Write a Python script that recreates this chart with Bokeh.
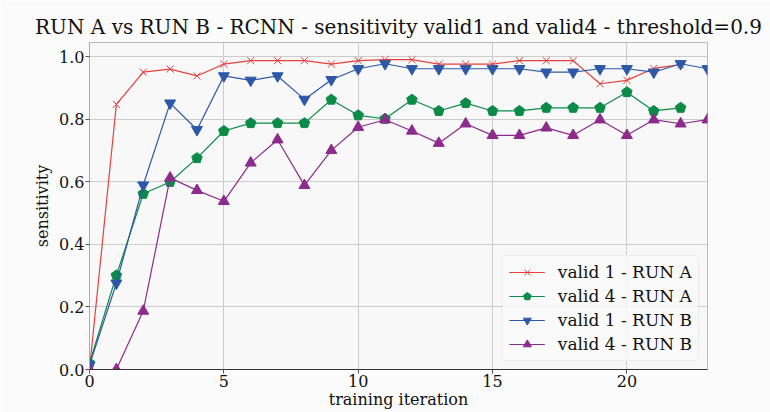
from bokeh.plotting import figure
from bokeh.models import Range1d, FixedTicker, PrintfTickFormatter, Legend, LegendItem
from bokeh.embed import file_html
from bokeh.resources import INLINE

iterations = list(range(24))
valid1_run_a = [0.0, 0.848, 0.951, 0.961, 0.939, 0.977, 0.988, 0.988, 0.988, 0.977, 0.988,
                0.991, 0.991, 0.977, 0.977, 0.977, 0.988, 0.988, 0.988, 0.914, 0.925, 0.963, 0.975]
valid4_run_a = [0.02, 0.301, 0.562, 0.600, 0.676, 0.763, 0.788, 0.788, 0.788, 0.863, 0.813,
                0.802, 0.863, 0.827, 0.852, 0.827, 0.827, 0.837, 0.837, 0.837, 0.887, 0.827, 0.837]
valid1_run_b = [0.014, 0.276, 0.590, 0.852, 0.767, 0.939, 0.925, 0.939, 0.864, 0.927, 0.962,
                0.978, 0.962, 0.962, 0.962, 0.962, 0.962, 0.951, 0.951, 0.962, 0.962, 0.951, 0.978, 0.962]
valid4_run_b = [0.0, 0.0, 0.187, 0.613, 0.573, 0.538, 0.661, 0.735, 0.589, 0.701, 0.775,
                0.799, 0.763, 0.724, 0.786, 0.749, 0.749, 0.773, 0.749, 0.799, 0.749, 0.799, 0.786, 0.799]
y_ticks = [0.0, 0.2, 0.4, 0.6, 0.8, 1.0]
x_ticks = [0, 5, 10, 15, 20]

FONT = "DejaVu Serif"
RED, GREEN, BLUE, PURPLE = "#e5403d", "#0b8a48", "#2d58a8", "#8c2b8c"

p = figure(width=770, height=412, output_backend="svg", toolbar_location=None,
           x_range=Range1d(0, 23), y_range=Range1d(0, 1.046),
           min_border_left=89, min_border_right=63, min_border_top=42, min_border_bottom=43,
           title="RUN A vs RUN B - RCNN - sensitivity valid1 and valid4 - threshold=0.9")
p.title.text_font = FONT
p.title.text_font_size = "20px"
p.title.text_font_style = "normal"
p.title.align = "center"
p.title.text_color = "#111111"
p.title.offset = 0
p.title.standoff = 7

p.background_fill_color = "#f8f8f8"
p.border_fill_color = "#fbfbfb"
p.outline_line_color = "#bbbbbb"

for ax in (p.xaxis[0], p.yaxis[0]):
    ax.major_label_text_font = FONT
    ax.major_label_text_font_size = "16px"
    ax.major_label_text_color = "#111111"
    ax.axis_label_text_font = FONT
    ax.axis_label_text_font_size = "16px"
    ax.axis_label_text_font_style = "normal"
    ax.axis_label_text_color = "#111111"
    ax.minor_tick_line_color = None
    ax.major_tick_out = 4
    ax.major_tick_in = 0
    ax.major_tick_line_color = "#555555"
    ax.major_label_standoff = 1
    ax.axis_label_standoff = 0

p.xaxis.axis_label = "training iteration"
p.yaxis.axis_label = "sensitivity"
p.yaxis.axis_label_standoff = 4
p.xaxis.ticker = FixedTicker(ticks=x_ticks)
p.yaxis.ticker = FixedTicker(ticks=y_ticks)
p.yaxis.formatter = PrintfTickFormatter(format="%.1f")
p.xaxis.axis_line_color = "#333333"
p.yaxis.axis_line_color = "#aaaaaa"

p.grid.grid_line_color = "#cccccc"
p.grid.grid_line_width = 1

n1 = len(valid1_run_a)
n4 = len(valid4_run_a)

r1l = p.line(iterations[:n1], valid1_run_a, line_color=RED, line_width=1.2)
r1m = p.scatter(iterations[:n1], valid1_run_a, marker="x", size=10, line_color=RED, line_width=1)
r2l = p.line(iterations[:n4], valid4_run_a, line_color=GREEN, line_width=1.2)
r2m = p.ngon(iterations[:n4], valid4_run_a, radius=5.5, radius_units="screen", n=5,
             angle=0, fill_color=GREEN, line_color=GREEN)
r3l = p.line(iterations, valid1_run_b, line_color=BLUE, line_width=1.2)
r3m = p.scatter(iterations, valid1_run_b, marker="inverted_triangle", size=11,
                fill_color=BLUE, line_color=BLUE)
r4l = p.line(iterations, valid4_run_b, line_color=PURPLE, line_width=1.2)
r4m = p.scatter(iterations, valid4_run_b, marker="triangle", size=11,
                fill_color=PURPLE, line_color=PURPLE)

legend = Legend(items=[
    LegendItem(label="valid 1 - RUN A", renderers=[r1l, r1m]),
    LegendItem(label="valid 4 - RUN A", renderers=[r2l, r2m]),
    LegendItem(label="valid 1 - RUN B", renderers=[r3l, r3m]),
    LegendItem(label="valid 4 - RUN B", renderers=[r4l, r4m]),
], location="bottom_right")
legend.margin = 8
legend.padding = 6
legend.spacing = 4
legend.label_height = 20
legend.glyph_height = 20
legend.label_text_font = FONT
legend.label_text_font_size = "17px"
legend.label_text_color = "#111111"
legend.glyph_width = 36
legend.label_standoff = 13
legend.border_line_color = "#dddddd"
legend.border_radius = 4
legend.background_fill_color = "#fafafa"
legend.background_fill_alpha = 0.9
p.add_layout(legend)

open("out.html", "w").write(file_html(p, INLINE))
